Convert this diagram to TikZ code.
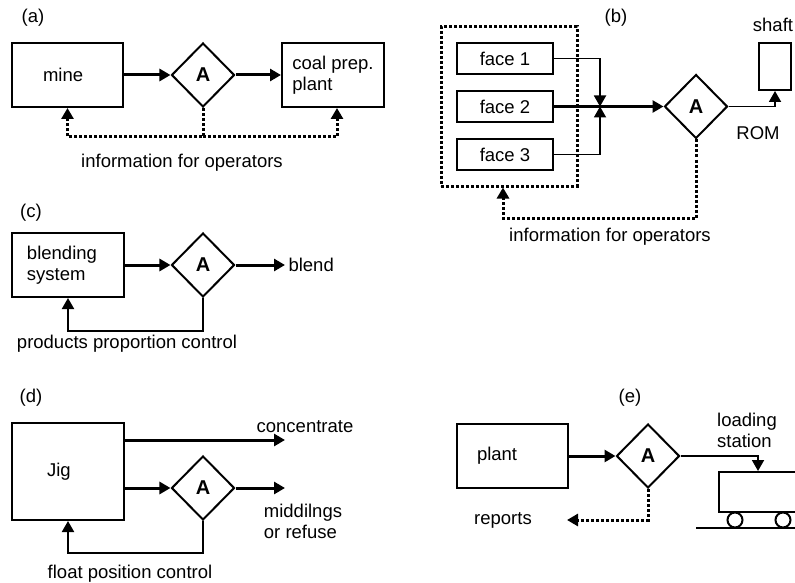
\documentclass[tikz,border=0pt]{standalone}
\usepackage{fontspec}
\setmainfont{Liberation Sans}
\usetikzlibrary{shapes.geometric, arrows.meta}

\begin{document}
\begin{tikzpicture}[x=1pt, y=-1pt, font=\fontsize{18.5}{21}\selectfont,
		box/.style={draw, line width=2pt, align=left},
		facebox/.style={draw, line width=2pt, minimum width=96pt, minimum height=31pt, inner sep=0pt},
		zonebox/.style={draw, line width=3pt, dash pattern=on 3pt off 2pt},
		decision/.style={draw, diamond, line width=2pt, minimum width=63pt, minimum height=64pt, inner sep=0pt, font=\fontsize{20}{22}\selectfont\bfseries},
		wheel/.style={draw, circle, fill=white, line width=2pt, minimum size=15pt, inner sep=0pt},
		flow/.style={line width=3pt, -{Triangle[length=11pt, width=12pt]}},
		thinflow/.style={line width=1.8pt, -{Triangle[length=11pt, width=12pt]}},
		control/.style={line width=2pt, -{Triangle[length=11pt, width=12pt]}},
		info/.style={line width=3pt, dash pattern=on 3pt off 2pt, -{Triangle[length=11pt, width=12pt]}}]
		\useasboundingbox (0,0) rectangle (795,583);
		\fill[white] (0,0) rectangle (795,583);
		\clip (0,0) rectangle (795,583);

		% (a) mine
		\node (taga) at (33,18) {(a)};
		\node[box, inner xsep=31pt, text width=49pt, minimum height=64pt] (mine) at (67.5,75) {mine};
		\node[decision] (Aa) at (203,75) {A};
		\node[box, minimum width=102pt, minimum height=64pt] (coal) at (333,75) {coal prep.\\plant};
		\node (infoa) at (182,163) {information for operators};
		\coordinate (busa) at (203,137);

		\path (mine) edge[flow] (Aa);
		\path (Aa) edge[flow] (coal);
		\draw[info] (Aa.south) -- (busa) -| (mine.south);
		\draw[info] (busa) -| ([xshift=4pt]coal.south);

		% (b) faces
		\node (tagb) at (616,18) {(b)};
		\node[zonebox, minimum width=136pt, minimum height=159pt] (faces) at (509,106.5) {};
		\node[facebox] (face1) at (505,58.5) {face 1};
		\node[facebox] (face2) at (505,106.5) {face 2};
		\node[facebox] (face3) at (505,154.5) {face 3};
		\coordinate (join) at (600,106.5);
		\node[decision] (Ab) at (696,106.5) {A};
		\node[box, minimum width=32pt, minimum height=47pt] (shaft) at (775,66.5) {};
		\node (shaftlbl) at (773,25) {shaft};
		\node (rom) at (758,133) {ROM};
		\node (infob) at (610,237) {information for operators};
		\coordinate (busb) at (503,218);

		\draw[thinflow] (face1) -| (join);
		\draw[thinflow] (face3) -| (join);
		\path (face2) edge[flow] (Ab);
		\draw[thinflow] (Ab) -| (shaft);
		\draw[info] (Ab.south) |- (busb) -- (busb |- faces.south);

		% (c) blending
		\node (tagc) at (31,213) {(c)};
		\node[box, inner xsep=15pt, text width=82pt, minimum height=64pt] (blending) at (68,265) {blending\\system};
		\node[decision] (Ac) at (203,265) {A};
		\node[anchor=west] (blend) at (285,265) {blend};
		\node (propctrl) at (127,344) {products proportion control};

		\path (blending) edge[flow] (Ac);
		\path (Ac) edge[flow] (blend);
		\draw[control] (Ac.south) -- ++(0,33) -| (blending.south);

		% (d) jig
		\node (tagd) at (31,398) {(d)};
		\node[box, inner xsep=35pt, text width=42pt, minimum height=97pt] (jig) at (68,471.5) {Jig};
		\node (conc) at (305,427) {concentrate};
		\coordinate (concend) at (285,440);
		\node[decision] (Ad) at (203,488) {A};
		\coordinate (middend) at (285,488);
		\node[align=left] (midd) at (303,521) {middilngs\\or refuse};
		\node (floatctrl) at (130,574) {float position control};

		\draw[flow] (jig.east |- concend) -- (concend);
		\draw[flow] (jig.east |- Ad) -- (Ad);
		\draw[flow] (Ad) -- (middend);
		\draw[control] (Ad.south) -- ++(0,32) -| (jig.south);

		% (e) loading
		\node (tage) at (630,398) {(e)};
		\node[box, inner xsep=20pt, text width=71pt, minimum height=64pt] (plant) at (512.5,456) {plant};
		\node[decision] (Ae) at (648,456) {A};
		\node[align=left] (loading) at (747,430.5) {loading\\station};
		\node[box, minimum width=111pt, minimum height=40pt] (wagon) at (774.5,492) {};
		\coordinate (railstart) at (696,528);
		\draw[line width=1.5pt] (railstart) -- ++(110,0);
		\node[wheel] (wheel1) at (735,520) {};
		\node[wheel] (wheel2) at (783,520) {};
		\node (reports) at (503,520) {reports};
		\coordinate (repend) at (567,520);

		\path (plant) edge[flow] (Ae);
		\draw[thinflow] (Ae) -| ([xshift=40pt]wagon.north west);
		\draw[info] (Ae.south) |- (repend);
	\end{tikzpicture}
\end{document}
